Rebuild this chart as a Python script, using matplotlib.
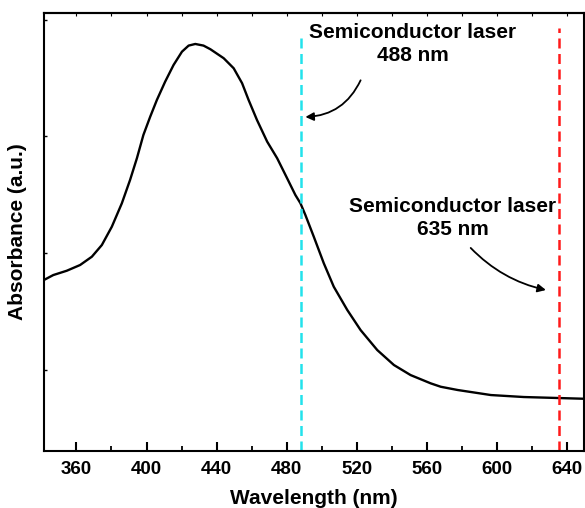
import matplotlib
matplotlib.use("Agg")
import matplotlib.pyplot as plt
from matplotlib.ticker import MultipleLocator, NullFormatter

# Espectro de absorbancia
longitudOnda = [341.5, 346.8, 354.5, 362.1, 368.8, 374.5, 380.2, 385.9, 390.6,
                394.5, 398.2, 402.1, 405.9, 410.6, 415.4, 420.2, 424.0, 427.8,
                432.5, 436.4, 444.0, 449.7, 454.5, 458.2, 463.0, 468.8, 474.5,
                480.2, 484.9, 487.8, 490.6, 495.4, 501.1, 506.8, 514.5, 522.1,
                531.6, 541.1, 550.6, 562.1, 567.8, 577.5, 596.4, 615.2, 650.0]
absorbancia = [1.771, 1.813, 1.850, 1.899, 1.970, 2.070, 2.227, 2.427, 2.627,
               2.813, 3.012, 3.169, 3.312, 3.468, 3.611, 3.725, 3.777, 3.791,
               3.777, 3.746, 3.669, 3.583, 3.455, 3.312, 3.140, 2.955, 2.813,
               2.641, 2.498, 2.427, 2.327, 2.141, 1.914, 1.713, 1.514, 1.342,
               1.171, 1.043, 0.957, 0.886, 0.857, 0.829, 0.786, 0.769, 0.754]

# Laseres
laserNm = [488, 635]
laserColor = ["#22e2ec", "#ff1a1a"]
laserTop = [3.885, 3.93]
laserTexto = ["Semiconductor laser\n488 nm", "Semiconductor laser\n635 nm"]

plt.rcParams["font.family"] = ["Liberation Sans", "DejaVu Sans"]
plt.rcParams["font.weight"] = "bold"

fig = plt.figure(figsize=(5.85, 5.08), dpi=100)
ax = fig.add_axes([0.0752, 0.1122, 0.9230, 0.8622])

ax.plot(longitudOnda, absorbancia, color="black", lw=1.7,
        solid_joinstyle="round", solid_capstyle="round")

ymin, ymax = 0.307, 4.056
for nm, col, top in zip(laserNm, laserColor, laserTop):
    ax.plot([nm, nm], [ymin, top], color=col, lw=1.8, linestyle=(0, (4, 2.2)))

# Anotaciones
flecha = dict(arrowstyle="-|>", color="black", lw=1.3, mutation_scale=12,
              shrinkA=0, shrinkB=0)
ax.text(551.8, 3.97, laserTexto[0], ha="center", va="top", fontsize=15,
        fontweight="bold", linespacing=1.25)
ax.annotate("", xy=(490.6, 3.166), xytext=(522.1, 3.48),
            arrowprops=dict(flecha, connectionstyle="arc3,rad=-0.3"))
ax.text(574.7, 2.48, laserTexto[1], ha="center", va="top", fontsize=15,
        fontweight="bold", linespacing=1.25)
ax.annotate("", xy=(627.8, 1.685), xytext=(584.9, 2.045),
            arrowprops=dict(flecha, connectionstyle="arc3,rad=0.15"))

ax.set_xlim(341.5, 649.5)
ax.set_ylim(ymin, ymax)

ax.xaxis.set_major_locator(MultipleLocator(40))
ax.xaxis.set_minor_locator(MultipleLocator(20))
ax.yaxis.set_major_locator(MultipleLocator(1))
ax.yaxis.set_major_formatter(NullFormatter())
ax.tick_params(axis="x", which="major", direction="in", length=6.5, width=1.5,
               labelsize=13.5, pad=7)
ax.tick_params(axis="x", which="minor", direction="in", length=3.5, width=1.3)
ax.tick_params(axis="y", which="major", direction="in", length=2.5, width=1.0)
for lbl in ax.get_xticklabels():
    lbl.set_fontweight("bold")

ejeSup = ax.secondary_xaxis("top")
ejeSup.xaxis.set_major_locator(MultipleLocator(20))
ejeSup.xaxis.set_major_formatter(NullFormatter())
ejeSup.tick_params(direction="in", length=2.5, width=0.8)
ejeSup.spines["top"].set_linewidth(1.5)

for s in ax.spines.values():
    s.set_linewidth(1.5)

ax.set_xlabel("Wavelength (nm)", fontsize=15, fontweight="bold", labelpad=8)
ax.set_ylabel("Absorbance (a.u.)", fontsize=15, fontweight="bold", labelpad=9)

fig.savefig("out.png", dpi=100)
